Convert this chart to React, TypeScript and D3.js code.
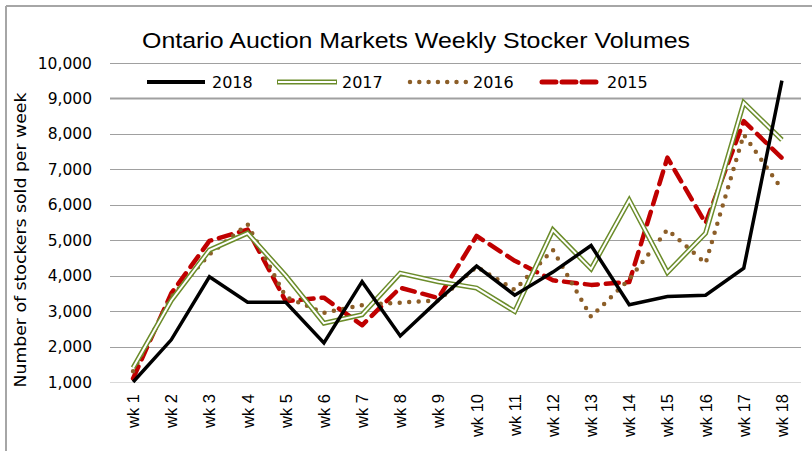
import React from "react";
import * as d3 from "d3";

const weeks = ["wk 1","wk 2","wk 3","wk 4","wk 5","wk 6","wk 7","wk 8","wk 9","wk 10","wk 11","wk 12","wk 13","wk 14","wk 15","wk 16","wk 17","wk 18"];
const v2018 = [1000,2190,3970,3250,3250,2100,3830,2300,3310,4270,3450,4100,4850,3180,3410,3450,4210,9500];
const v2017 = [1400,3300,4720,5200,4000,2660,2900,4070,3830,3650,2990,5290,4190,6130,4090,5200,8880,7830];
const v2016 = [1300,3400,4600,5450,3400,2950,3170,3240,3300,4250,3600,4730,2840,3900,5300,4350,7980,6440];
const v2015 = [1100,3500,4980,5300,3280,3380,2600,3660,3370,5120,4420,3870,3740,3820,7330,5480,8360,7320];
const yTicks = [1000,2000,3000,4000,5000,6000,7000,8000,9000,10000];
const seriesNames = ["2018","2017","2016","2015"];

const W = 812, H = 451;

export default function App() {
  React.useEffect(() => {
    document.body.style.margin = "0";
  }, []);

  const x = d3.scaleBand<string>().domain(weeks).range([114, 801]).paddingInner(0).paddingOuter(0);
  const cx = (w: string) => (x(w) as number) + x.bandwidth() / 2;
  const y = d3.scaleLinear().domain([1000, 10000]).range([382, 63]);
  const fmt = d3.format(",");

  const line = d3.line<number>()
    .x((_, i) => cx(weeks[i]))
    .y((d) => y(d));

  const font = "DejaVu Sans, sans-serif";

  return (
    <svg width={W} height={H} style={{ position: "absolute", left: 0, top: 0, background: "#fff" }}>
      <rect x={0} y={0} width={W} height={H} fill="#fff" />
      {/* frame */}
      <line x1={6} y1={6} x2={W} y2={6} stroke="#a6a6a6" strokeWidth={2} />
      <line x1={6} y1={6} x2={6} y2={H} stroke="#a6a6a6" strokeWidth={2} />

      {/* title */}
      <text x={416} y={48} textAnchor="middle" fontFamily="Liberation Sans, Arial, sans-serif" fontSize={22}
        textLength={548} lengthAdjust="spacingAndGlyphs" fill="#000">
        Ontario Auction Markets Weekly Stocker Volumes
      </text>

      {/* gridlines */}
      {yTicks.map((t) => (
        <line key={t} x1={110} x2={801} y1={Math.round(y(t)) + 0.5} y2={Math.round(y(t)) + 0.5}
          stroke={t === 1000 ? "#d9d9d9" : "#a0a0a0"} strokeWidth={t === 9000 ? 2 : 1} />
      ))}

      {/* y tick labels */}
      {yTicks.map((t) => (
        <text key={t} x={92} y={y(t)} dy="0.36em" textAnchor="end" fontFamily={font} fontSize={15.5} fill="#000">
          {fmt(t)}
        </text>
      ))}

      {/* y axis title */}
      <text transform={`translate(21,240) rotate(-90)`} textAnchor="middle" dominantBaseline="central"
        fontFamily={font} fontSize={15} textLength={295} lengthAdjust="spacingAndGlyphs" fill="#000">
        Number of stockers sold per week
      </text>

      {/* x labels */}
      {weeks.map((w) => (
        <text key={w} transform={`translate(${cx(w)},394) rotate(-90)`} textAnchor="end" dominantBaseline="central"
          fontFamily="Liberation Sans, Arial, sans-serif" fontSize={16.5} fill="#000">
          {w}
        </text>
      ))}

      {/* series */}
      <path d={line(v2015) || ""} fill="none" stroke="#c00000" strokeWidth={4.5} strokeDasharray="13 8"
        strokeLinecap="round" strokeLinejoin="round" />
      <path d={line(v2016) || ""} fill="none" stroke="#8c5e28" strokeWidth={4.5} strokeDasharray="0 9.5"
        strokeLinecap="round" strokeLinejoin="round" />
      <path d={line(v2017) || ""} fill="none" stroke="#6b8c2a" strokeWidth={5} strokeLinejoin="miter" />
      <path d={line(v2017) || ""} fill="none" stroke="#fff" strokeWidth={2} strokeLinejoin="miter" />
      <path d={line(v2018) || ""} fill="none" stroke="#000" strokeWidth={3.5} strokeLinejoin="miter" />

      {/* legend */}
      <g fontFamily={font} fontSize={16} fill="#000">
        <line x1={147} x2={205} y1={82} y2={82} stroke="#000" strokeWidth={4} />
        <text x={212} y={88}>{seriesNames[0]}</text>

        <line x1={277} x2={337} y1={82} y2={82} stroke="#6b8c2a" strokeWidth={5} />
        <line x1={278} x2={336} y1={82} y2={82} stroke="#fff" strokeWidth={2} />
        <text x={342} y={88}>{seriesNames[1]}</text>

        <line x1={410} x2={466} y1={82} y2={82} stroke="#8c5e28" strokeWidth={4.5} strokeDasharray="0 9.3" strokeLinecap="round" />
        <text x={473} y={88}>{seriesNames[2]}</text>

        <line x1={542} x2={598} y1={82} y2={82} stroke="#c00000" strokeWidth={5} strokeDasharray="14 6" strokeLinecap="round" />
        <text x={607} y={88}>{seriesNames[3]}</text>
      </g>
    </svg>
  );
}
